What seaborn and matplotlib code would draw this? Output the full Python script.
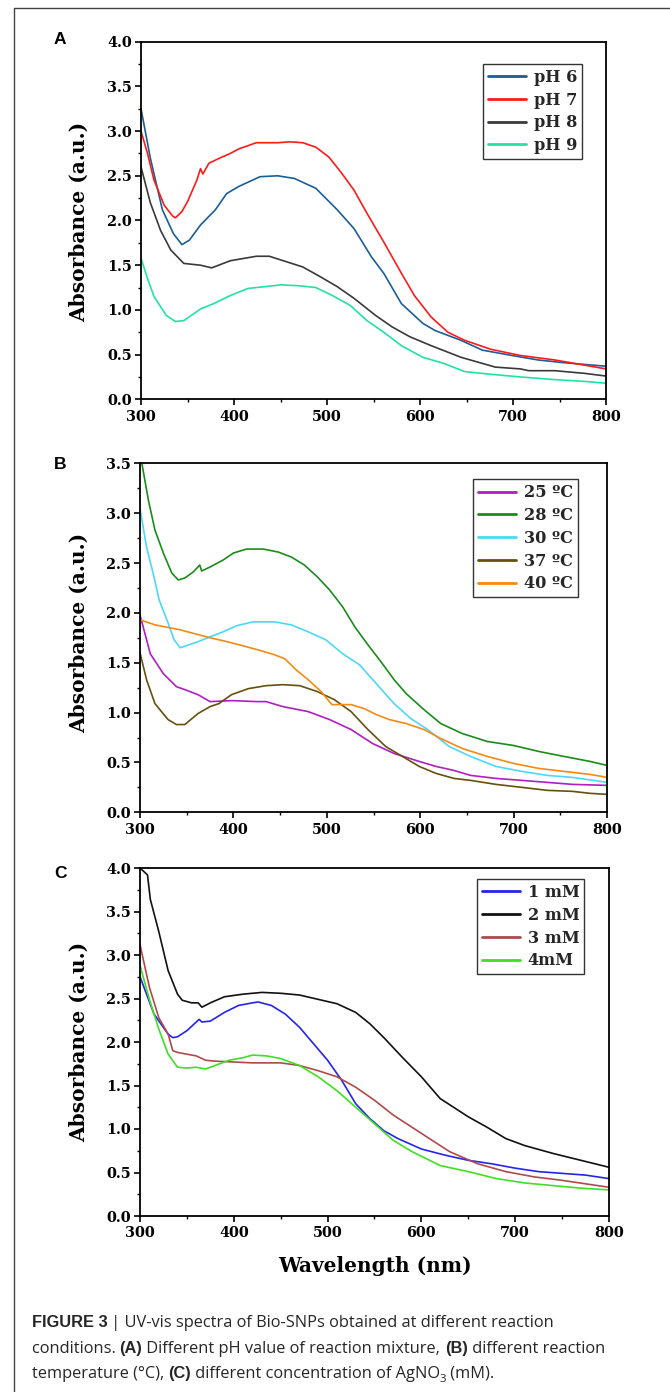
import numpy as np
import pandas as pd
import matplotlib
matplotlib.use("Agg")
import matplotlib.pyplot as plt
import seaborn as sns
from matplotlib.lines import Line2D
from matplotlib.ticker import MultipleLocator

# ---------------- data ----------------
# Panel A: pH
pH6_wl = [300, 310, 323, 335, 344, 352, 364, 380, 392, 405, 428, 447, 465, 488, 511, 529, 548, 561, 580, 603, 616, 644, 667, 699, 727, 754, 800]
pH6_ab = [3.25, 2.70, 2.12, 1.85, 1.73, 1.78, 1.95, 2.12, 2.30, 2.38, 2.49, 2.50, 2.47, 2.36, 2.12, 1.91, 1.59, 1.41, 1.07, 0.85, 0.77, 0.66, 0.55, 0.49, 0.44, 0.41, 0.37]
pH7_wl = [300, 307, 314, 325, 334, 337, 344, 350, 360, 364, 366.5, 373, 385, 396, 405, 424, 447, 460, 474, 488, 502, 515, 529, 543, 561, 580, 594, 612, 630, 648, 676, 708, 745, 800]
pH7_ab = [3.00, 2.75, 2.45, 2.17, 2.05, 2.03, 2.10, 2.21, 2.45, 2.58, 2.52, 2.64, 2.70, 2.75, 2.80, 2.87, 2.87, 2.88, 2.87, 2.82, 2.71, 2.54, 2.34, 2.08, 1.76, 1.41, 1.16, 0.92, 0.75, 0.66, 0.56, 0.49, 0.44, 0.34]
pH8_wl = [300, 310, 321, 332, 346, 364, 376, 396, 424, 438, 456, 474, 493, 511, 529, 552, 570, 589, 612, 644, 681, 708, 717, 745, 777, 800]
pH8_ab = [2.60, 2.20, 1.89, 1.67, 1.52, 1.50, 1.47, 1.55, 1.60, 1.60, 1.54, 1.48, 1.37, 1.26, 1.13, 0.94, 0.81, 0.70, 0.60, 0.47, 0.36, 0.34, 0.32, 0.32, 0.29, 0.26]
pH9_wl = [300, 307, 314, 327, 337, 346, 364, 378, 396, 415, 433, 451, 470, 488, 506, 525, 543, 561, 580, 603, 626, 648, 676, 708, 745, 777, 800]
pH9_ab = [1.58, 1.35, 1.15, 0.94, 0.87, 0.88, 1.01, 1.07, 1.16, 1.24, 1.26, 1.28, 1.27, 1.25, 1.16, 1.05, 0.88, 0.75, 0.60, 0.47, 0.40, 0.31, 0.28, 0.25, 0.22, 0.20, 0.18]

# Panel B: temperature
t25_wl = [300, 311, 325, 339, 348, 362, 375, 398, 426, 435, 453, 480, 503, 526, 549, 572, 599, 617, 636, 654, 681, 709, 736, 763, 800]
t25_ab = [1.98, 1.59, 1.39, 1.26, 1.23, 1.18, 1.11, 1.12, 1.11, 1.11, 1.06, 1.01, 0.93, 0.83, 0.69, 0.59, 0.51, 0.46, 0.42, 0.37, 0.34, 0.32, 0.30, 0.28, 0.27]
t28_wl = [300, 302, 309, 316, 325, 334, 341, 348, 357, 364, 366, 375, 389, 400, 414, 432, 448, 462, 476, 490, 503, 517, 530, 544, 558, 572, 585, 604, 622, 645, 672, 700, 727, 754, 782, 800]
t28_ab = [3.60, 3.50, 3.13, 2.83, 2.60, 2.40, 2.33, 2.35, 2.41, 2.48, 2.42, 2.46, 2.53, 2.60, 2.64, 2.64, 2.61, 2.56, 2.48, 2.36, 2.23, 2.06, 1.86, 1.68, 1.51, 1.33, 1.19, 1.03, 0.89, 0.79, 0.71, 0.67, 0.61, 0.56, 0.51, 0.47]
t30_wl = [300, 307, 314, 320.5, 330, 336.5, 343, 352.5, 362, 375, 389, 403, 421, 444, 462, 480, 499, 517, 535, 553, 572, 590, 608, 631, 654, 681, 709, 736, 763, 800]
t30_ab = [3.05, 2.66, 2.40, 2.13, 1.90, 1.73, 1.65, 1.68, 1.71, 1.76, 1.81, 1.87, 1.91, 1.91, 1.88, 1.81, 1.73, 1.59, 1.48, 1.29, 1.09, 0.94, 0.83, 0.66, 0.56, 0.46, 0.41, 0.37, 0.35, 0.30]
t37_wl = [300, 307, 316, 330, 339, 348, 362, 375, 384.5, 398, 416, 435, 453, 471, 490, 508, 526, 544, 563, 581, 599, 617, 636, 654, 681, 709, 736, 763, 782, 800]
t37_ab = [1.60, 1.33, 1.09, 0.93, 0.88, 0.88, 0.99, 1.06, 1.09, 1.18, 1.24, 1.27, 1.28, 1.27, 1.21, 1.13, 1.01, 0.83, 0.66, 0.56, 0.46, 0.39, 0.34, 0.32, 0.28, 0.25, 0.22, 0.21, 0.19, 0.18]
t40_wl = [300, 316, 343, 371, 398, 426, 444, 455, 467, 480, 494, 505.5, 517, 526, 540, 553, 567, 585, 604, 622, 645, 672, 700, 727, 754, 782, 800]
t40_ab = [1.93, 1.88, 1.83, 1.76, 1.70, 1.63, 1.58, 1.54, 1.43, 1.33, 1.21, 1.08, 1.08, 1.08, 1.04, 0.98, 0.93, 0.89, 0.83, 0.74, 0.64, 0.56, 0.49, 0.44, 0.41, 0.38, 0.35]

# Panel C: AgNO3 concentration
c1_wl = [300, 315, 330, 335, 340, 350, 360, 363, 366, 375, 390, 405, 420, 426, 440, 455, 470, 485, 500, 515, 530, 545, 560, 575, 600, 625, 650, 675, 700, 725, 750, 775, 800]
c1_ab = [2.75, 2.32, 2.09, 2.05, 2.06, 2.13, 2.23, 2.26, 2.23, 2.24, 2.34, 2.42, 2.45, 2.46, 2.42, 2.32, 2.17, 1.98, 1.79, 1.56, 1.29, 1.12, 0.98, 0.89, 0.77, 0.70, 0.64, 0.60, 0.55, 0.51, 0.49, 0.47, 0.43]
c2_wl = [300, 305, 308, 311, 320, 330, 340, 345, 355, 362, 366, 375, 390, 410, 430, 450, 470, 490, 510, 530, 545, 560, 580, 600, 620, 650, 670, 690, 710, 740, 770, 800]
c2_ab = [4.00, 3.95, 3.92, 3.64, 3.27, 2.82, 2.55, 2.48, 2.45, 2.45, 2.40, 2.45, 2.52, 2.55, 2.57, 2.56, 2.54, 2.49, 2.44, 2.34, 2.21, 2.05, 1.82, 1.60, 1.35, 1.14, 1.02, 0.89, 0.81, 0.72, 0.64, 0.56]
c3_wl = [300, 310, 320, 330, 335, 340, 350, 360, 370, 380, 400, 420, 450, 470, 490, 510, 530, 550, 570, 600, 630, 660, 690, 720, 750, 775, 800]
c3_ab = [3.12, 2.63, 2.28, 2.09, 1.90, 1.88, 1.86, 1.84, 1.79, 1.78, 1.77, 1.76, 1.76, 1.73, 1.67, 1.60, 1.48, 1.33, 1.16, 0.95, 0.74, 0.60, 0.51, 0.45, 0.41, 0.37, 0.33]
c4_wl = [300, 310, 320, 330, 340, 350, 360, 370, 380, 395, 410, 420, 435, 450, 470, 490, 510, 530, 550, 570, 590, 620, 650, 680, 710, 740, 770, 800]
c4_ab = [2.88, 2.49, 2.15, 1.86, 1.71, 1.70, 1.71, 1.69, 1.73, 1.79, 1.82, 1.85, 1.84, 1.81, 1.73, 1.60, 1.44, 1.25, 1.06, 0.87, 0.74, 0.58, 0.51, 0.43, 0.38, 0.35, 0.32, 0.30]

labels_A = ["pH 6", "pH 7", "pH 8", "pH 9"]
labels_B = ["25 ºC", "28 ºC", "30 ºC", "37 ºC", "40 ºC"]
labels_C = ["1 mM", "2 mM", "3 mM", "4mM"]
colors_A = ["#1b5d96", "#ff1a1a", "#3a3a3a", "#22e2a2"]
colors_B = ["#b01ec0", "#1a8c1a", "#4cd8f8", "#65500f", "#f58a12"]
colors_C = ["#2424ee", "#111111", "#b04a4a", "#3ee020"]

x_ticks = [300, 400, 500, 600, 700, 800]


def make_df(series, labels):
    frames = []
    for (wl, ab), lab in zip(series, labels):
        frames.append(pd.DataFrame({"Wavelength": wl, "Absorbance": ab, "Series": lab}))
    return pd.concat(frames, ignore_index=True)


df_A = make_df([(pH6_wl, pH6_ab), (pH7_wl, pH7_ab), (pH8_wl, pH8_ab), (pH9_wl, pH9_ab)], labels_A)
df_B = make_df([(t25_wl, t25_ab), (t28_wl, t28_ab), (t30_wl, t30_ab), (t37_wl, t37_ab), (t40_wl, t40_ab)], labels_B)
df_C = make_df([(c1_wl, c1_ab), (c2_wl, c2_ab), (c3_wl, c3_ab), (c4_wl, c4_ab)], labels_C)

# ---------------- figure ----------------
sns.set_theme(style="ticks")
plt.rcParams["font.family"] = ["DejaVu Serif"]

W, H = 670, 1392
fig = plt.figure(figsize=(W / 100, H / 100), dpi=100)
fig.patch.set_facecolor("white")


def px_rect(left, right, top, bottom):
    return [left / W, 1 - bottom / H, (right - left) / W, (bottom - top) / H]


serif = "DejaVu Serif"
tick_fs = 10.4
leg_fs = 11.6
lab_fs = 14.5

panels = [
    (df_A, labels_A, colors_A, px_rect(141, 606, 41.7, 399.3), 4.0, (0.948, 0.938), (-0.112, 0.495), "A", 32),
    (df_B, labels_B, colors_B, px_rect(140, 607, 463.3, 812.3), 3.5, (0.937, 0.954), (-0.110, 0.514), "B", 457),
    (df_C, labels_C, colors_C, px_rect(140, 609, 868, 1216), 4.0, (0.947, 0.968), (-0.110, 0.50), "C", 866),
]

axes = []
for df, labs, cols, rect, ymax, leg_anchor, ylab_pos, letter, letter_top in panels:
    ax = fig.add_axes(rect)
    axes.append(ax)
    sns.lineplot(data=df, x="Wavelength", y="Absorbance", hue="Series", hue_order=labs,
                 palette=dict(zip(labs, cols)), estimator=None, sort=False,
                 linewidth=1.2, legend=False, ax=ax)
    ax.set_xlim(300, 800)
    ax.set_ylim(0, ymax)
    ax.set_xticks(x_ticks)
    ax.xaxis.set_minor_locator(MultipleLocator(50))
    ax.yaxis.set_major_locator(MultipleLocator(0.5))
    ax.yaxis.set_minor_locator(MultipleLocator(0.25))
    ax.yaxis.set_major_formatter(matplotlib.ticker.FormatStrFormatter("%.1f"))
    for s in ax.spines.values():
        s.set_linewidth(1.3)
        s.set_color("black")
        s.set_visible(True)
    ax.tick_params(axis="x", which="major", pad=3.5)
    ax.tick_params(axis="y", which="major", pad=2.5)
    ax.tick_params(which="major", direction="out", length=4, width=1.2, color="black",
                   top=False, right=False)
    ax.tick_params(which="minor", direction="out", length=2.5, width=1.0, color="black",
                   top=False, right=False)
    for t in ax.get_xticklabels() + ax.get_yticklabels():
        t.set_fontfamily(serif)
        t.set_fontweight("bold")
        t.set_fontsize(tick_fs)
        t.set_color("black")
    ax.set_xlabel("")
    ax.set_ylabel("Absorbance (a.u.)", fontfamily=serif, fontweight="bold", fontsize=lab_fs, color="black")
    ax.yaxis.set_label_coords(*ylab_pos)
    handles = [Line2D([0], [0], color=c, lw=2.0) for c in cols]
    leg = ax.legend(handles, labs, loc="upper right", bbox_to_anchor=leg_anchor, borderaxespad=0,
                    frameon=True, fancybox=False, framealpha=1, edgecolor="#333333",
                    handlelength=2.4, handletextpad=0.45, labelspacing=0.36, borderpad=0.3,
                    prop={"family": serif, "weight": "bold", "size": leg_fs})
    leg.get_frame().set_linewidth(1.0)
    fig.text(54 / W, 1 - letter_top / H, letter, ha="left", va="top",
             fontfamily="Liberation Sans", fontweight="bold", fontsize=12.5, color="black")

axes[2].set_xlabel("Wavelength (nm)", fontfamily=serif, fontweight="bold", fontsize=lab_fs, color="black")
axes[2].xaxis.set_label_coords(0.5, -0.115)

# page border (top + left)
fig.add_artist(Line2D([13.5 / W, 13.5 / W], [0, 1 - 8 / H], transform=fig.transFigure, color="#444444", lw=1.0))
fig.add_artist(Line2D([13.5 / W, 1.0], [1 - 8 / H, 1 - 8 / H], transform=fig.transFigure, color="#444444", lw=1.0))

# ---------------- caption ----------------
reg_family = ["Open Sans", "DejaVu Sans"]
bold_family = ["Liberation Sans", "DejaVu Sans"]
cap_fs = 11.8
cap_color = "#262626"
cap_lines = [
    (1327, [("FIGURE 3", True, 1.0, 0), (" | UV-vis spectra of Bio-SNPs obtained at different reaction", False, 1.0, 0)]),
    (1353, [("conditions. ", False, 1.0, 0), ("(A)", True, 1.0, 0), (" Different pH value of reaction mixture, ", False, 1.0, 0),
            ("(B)", True, 1.0, 0), (" different reaction", False, 1.0, 0)]),
    (1378, [("temperature (°C), ", False, 1.0, 0), ("(C)", True, 1.0, 0),
            (" different concentration of AgNO", False, 1.0, 0), ("3", False, 0.7, -3.5), (" (mM).", False, 1.0, 0)]),
]
fig.canvas.draw()
renderer = fig.canvas.get_renderer()
for base_y, pieces in cap_lines:
    x = 31.5
    for txt, is_bold, sc, dy in pieces:
        t = fig.text(x / W, 1 - (base_y - dy) / H, txt, ha="left", va="baseline",
                     fontfamily=bold_family if is_bold else reg_family,
                     fontweight="bold" if is_bold else "normal",
                     fontsize=cap_fs * sc, color=cap_color)
        bb = t.get_window_extent(renderer)
        x += bb.width

fig.savefig("out.png", dpi=100, facecolor="white")
